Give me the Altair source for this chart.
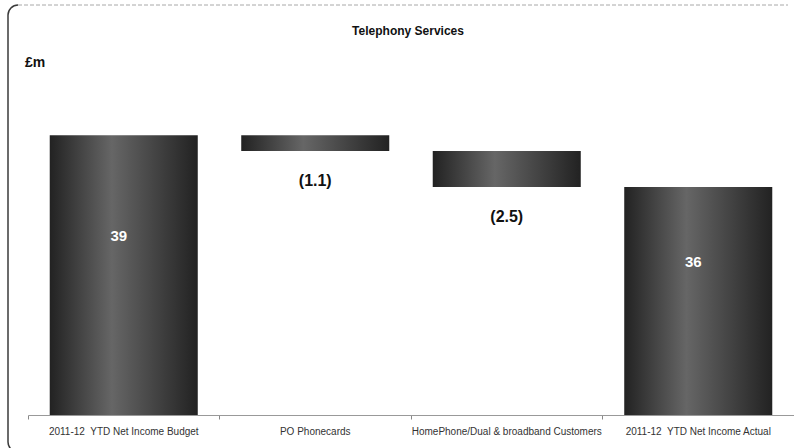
import altair as alt
import pandas as pd

# Waterfall inputs (£m)
categories = [
    "2011-12\u00a0 YTD Net Income Budget",
    "PO Phonecards",
    "HomePhone/Dual & broadband Customers",
    "2011-12\u00a0 YTD Net Income Actual",
]
amounts = [39.4, -1.1, -2.5, 35.8]
kinds = ["total", "change", "change", "total"]

Y_MIN, Y_MAX = 20, 46
FONT = "Liberation Sans"

# running start/end for each step of the waterfall
rows = []
running = 0.0
for cat, amt, kind in zip(categories, amounts, kinds):
    if kind == "total":
        start, end = 0.0, amt
        running = amt
        label = f"{amt:.0f}"
        anchor = (Y_MIN + amt) / 2
    else:
        start, end = running, running + amt
        running = end
        label = f"({abs(amt):.1f})"
        anchor = end
    rows.append(dict(cat=cat, kind=kind, start=start, end=end, label=label, anchor=anchor))
df = pd.DataFrame(rows)

shade = alt.Gradient(
    gradient="linear",
    stops=[
        alt.GradientStop(color="#222222", offset=0),
        alt.GradientStop(color="#666666", offset=0.42),
        alt.GradientStop(color="#222222", offset=1),
    ],
    x1=0, x2=1, y1=0, y2=0,
)

x_enc = alt.X(
    "cat:N",
    sort=categories,
    scale=alt.Scale(paddingInner=0, paddingOuter=0),
    axis=alt.Axis(
        title=None, labelAngle=0, labelLimit=0, labelFontSize=10, labelFont=FONT,
        labelColor="#333333", labelPadding=7, bandPosition=0, tickSize=4, tickExtra=False,
        tickColor="#888888", domainColor="#999999", grid=False,
    ),
)
y_scale = alt.Scale(domain=[Y_MIN, Y_MAX], zero=False, nice=False)

base = alt.Chart(df)

bars = base.mark_bar(color=shade, width=alt.RelativeBandSize(0.773), clip=True).encode(
    x=x_enc,
    y=alt.Y("start:Q", scale=y_scale, axis=None),
    y2="end:Q",
)

total_labels = base.transform_filter(alt.datum.kind == "total").mark_text(
    font=FONT, fontSize=15, fontWeight="bold", color="white", dy=-39, dx=-5, baseline="middle"
).encode(x=alt.X("cat:N", sort=categories), y=alt.Y("anchor:Q", scale=y_scale), text="label:N")

change_labels = base.transform_filter(alt.datum.kind == "change").mark_text(
    font=FONT, fontSize=16, fontWeight="bold", color="#111111", dy=30, baseline="middle"
).encode(x=alt.X("cat:N", sort=categories), y=alt.Y("anchor:Q", scale=y_scale), text="label:N")

one = pd.DataFrame({"t": ["Telephony Services"], "u": ["£m"]})

title = alt.Chart(one).mark_text(
    font=FONT, fontSize=12, fontWeight="bold", color="#111111", baseline="middle", align="center"
).encode(x=alt.value(380), y=alt.value(-9), text="t:N")

unit = alt.Chart(one).mark_text(
    font=FONT, fontSize=14, fontWeight="bold", color="#111111", baseline="middle", align="left"
).encode(x=alt.value(-3), y=alt.value(23), text="u:N")

# panel frame: rounded left corners, solid left edge, dashed top edge
R = 10
FX, FY = -20, -35  # frame's left edge / top edge relative to the plot origin
frame_corner = alt.Chart(one).mark_arc(
    radius=R, radius2=R, theta=4.712389, theta2=6.283185,
    stroke="#3a3a3a", strokeWidth=1.5, fillOpacity=0,
).encode(x=alt.value(FX + R), y=alt.value(FY + R))
frame_corner_bottom = alt.Chart(one).mark_arc(
    radius=R, radius2=R, theta=3.141593, theta2=4.712389,
    stroke="#3a3a3a", strokeWidth=1.5, fillOpacity=0,
).encode(x=alt.value(FX + R), y=alt.value(402))
frame_left = alt.Chart(one).mark_rule(color="#3a3a3a", strokeWidth=1.5).encode(
    x=alt.value(FX), y=alt.value(FY + R), y2=alt.value(402)
)
frame_top = alt.Chart(one).mark_rule(color="#a8a8a8", strokeWidth=1, strokeDash=[4, 2]).encode(
    x=alt.value(FX + R), x2=alt.value(760), y=alt.value(FY)
)

chart = alt.layer(
    frame_corner, frame_corner_bottom, frame_left, frame_top,
    bars, total_labels, change_labels, title, unit,
).properties(
    width=766,
    height=375,
    padding={"left": 28, "top": 40, "right": 0, "bottom": 33},
    autosize=alt.AutoSizeParams(type="none"),
    background="white",
).configure_view(stroke=None)

chart.save("out.html", embed_options={"renderer": "svg", "actions": False})
